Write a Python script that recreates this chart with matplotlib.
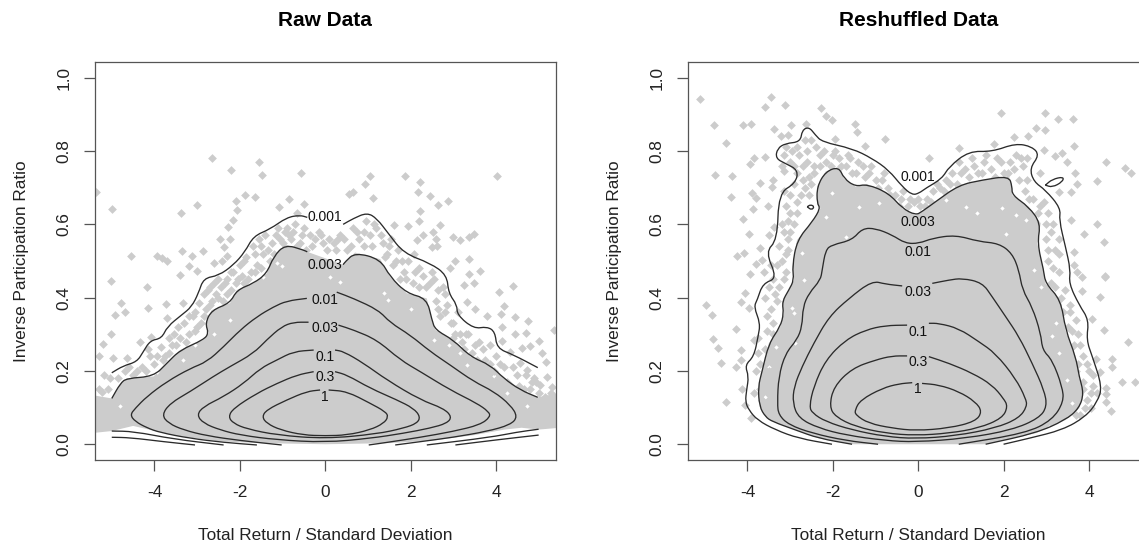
import numpy as np
from matplotlib import pyplot as plt
from matplotlib.path import Path
from matplotlib.patches import PathPatch

plt.rcParams['font.family'] = ['Liberation Sans', 'DejaVu Sans']

nan = float('nan')
levels_text = ['0.001', '0.003', '0.01', '0.03', '0.1', '0.3', '1']
xticks = [-4, -2, 0, 2, 4]
yticks = [0.0, 0.2, 0.4, 0.6, 0.8, 1.0]

# ---- raw data panel ----
raw_label_y = [.619, .49, .394, .316, .237, .183, .13]

raw_001_x = [-5.0, -4.73, -4.41, -4.26, -4.10, -3.83, -3.70, -3.36, -3.13, -2.97, -2.85, -2.50, -2.15, -1.88, -1.68, -1.29, -.90, -.59, -.42, nan, .42, .66, .98, 1.21, 1.48, 1.84, 2.46, 2.85, 2.89, 3.09, 3.09, 3.48, 3.79, 3.98, 4.02, 4.41, 4.98]
raw_001_y = [.195, .214, .225, .253, .283, .289, .321, .353, .375, .412, .453, .460, .489, .525, .568, .587, .619, .625, .619, nan, .60, .616, .632, .616, .575, .521, .494, .462, .412, .380, .353, .315, .321, .307, .262, .244, .209]
raw_003_x = [-5.0, -4.80, -4.65, -4.02, -3.71, -3.40, -2.85, -2.73, -2.81, -2.66, -2.23, -2.07, -1.68, -1.37, -1.21, -.94, -.51, -.42, nan, .42, .47, .70, 1.29, 1.52, 1.91, 2.38, 2.5, 2.58, 3.0, 3.4, 3.87, 4.18, 4.57, 4.98]
raw_003_y = [.125, .166, .18, .185, .221, .257, .285, .303, .33, .366, .385, .421, .439, .466, .512, .545, .53, .525, nan, .49, .498, .523, .505, .457, .412, .398, .339, .312, .285, .239, .216, .18, .148, .128]
raw_001_low_left_x = [-5.0, -4.57, -3.79, -3.05]
raw_001_low_left_y = [.019, .018, .007, -.002]
raw_003_low_left_x = [-5.0, -4.49, -3.55, -2.38]
raw_003_low_left_y = [.036, .035, .014, -.002]
raw_001_low_right_x = [3.05, 4.02, 5.0]
raw_001_low_right_y = [-.002, .012, .025]
raw_003_low_right_x = [2.38, 3.87, 4.49, 5.0]
raw_003_low_right_y = [-.002, .019, .033, .041]
raw_01_x = [-1.60, -2.38, -3.16, -3.87, -4.18, -4.45, -4.57, -4.45, -4.18, -3.71, -3.16, -2.77, -2.38, -1.99, -1.60, -1.21, -.90, -.43, nan, .27, .66, 1.25, 1.52, 1.99, 2.46, 2.93, 3.48, 3.95, 4.34, 4.51, 4.34, 3.79, 3.0, 2.23, 1.64]
raw_01_y = [-.002, .005, .016, .032, .045, .062, .08, .098, .13, .171, .207, .225, .266, .312, .348, .375, .391, .398, nan, .415, .398, .366, .332, .298, .253, .216, .171, .144, .107, .075, .053, .035, .019, .007, -.002]
raw_03_x = [-1.02, -1.99, -2.77, -3.32, -3.67, -3.83, -3.63, -3.16, -2.62, -2.23, -1.68, -1.37, -1.02, -.74, -.39, nan, .31, .66, 1.21, 1.76, 2.23, 2.93, 3.55, 3.83, 3.87, 3.63, 3.0, 2.23, 1.45, 1.02]
raw_03_y = [-.002, .01, .023, .039, .057, .08, .112, .144, .185, .212, .248, .285, .321, .333, .333, nan, .325, .312, .285, .23, .198, .148, .112, .089, .075, .053, .035, .019, .005, -.002]
raw_1_x = [-3.01, -2.85, -2.38, -1.91, -1.52, -1.13, -.74, -.27, nan, .23, .43, .90, 1.45, 2.23, 2.77, 2.97, 2.85, 2.46, 1.84, 1.05, 0, -1.13, -1.99, -2.46, -2.85, -3.01]
raw_1_y = [.08, .103, .13, .166, .207, .23, .253, .257, nan, .257, .253, .221, .175, .121, .098, .075, .057, .044, .03, .016, .005, .012, .025, .039, .057, .08]
raw_3_x = [-2.27, -2.15, -1.60, -1.13, -.66, -.27, nan, .23, .51, 1.05, 1.68, 2.07, 2.23, 2.15, 1.84, 1.21, 0, -1.13, -1.84, -2.15, -2.27]
raw_3_y = [.075, .098, .139, .166, .189, .198, nan, .198, .189, .153, .121, .098, .075, .057, .044, .028, .015, .025, .042, .057, .075]
raw_10_x = [-1.48, -1.37, -.90, -.43, -.12, nan, .08, .51, 1.05, 1.41, 1.48, 1.37, 1.05, .51, 0, -.51, -1.05, -1.37, -1.48]
raw_10_y = [.075, .094, .121, .144, .148, nan, .148, .144, .112, .089, .075, .057, .039, .025, .023, .025, .039, .057, .075]

raw_pts_x = [-2.66, -1.55, -2.2, -1.48, -.56, -5.37, -1.88, -1.64, -2.09, -.84, -.5, -1.08, -5.0, -3.0, -3.38, -2.07, -.65, -2.17, -2.27, -2.46, -2.24, -2.36, -4.55, -3.95, -3.83, -3.71, -3.35, -3.11, -2.87, -2.29, -2.6, -2.41, -3.18, -3.0, -3.41, -5.02, -4.18, -4.79, -4.14, -3.74, -4.68, -4.93, -3.71, -3.32, -5.02, -5.2, -4.34, -4.07, -5.29, -4.98, -4.65, -5.18, -5.23,
             1.04, .94, .66, .55, 1.12, 1.88, 2.23, 2.17, 2.46, 2.64, 2.88, 4.02, 2.23, 2.19, 2.68, 2.52, 1.93, 1.62, 2.29, 2.15, 2.6, 2.5, 2.62, 3.0, 3.15, 3.36, 3.48, 2.09, 3.36, 3.05, 2.93, 3.36, 3.62, 3.49, 3.24, 4.41, 4.07, 3.32, 4.18, 3.52, 3.79, 4.12, 4.45, 4.74, 4.14, 4.71, 4.45, 5.02, 4.8, 4.61, 4.14, 5.08, 5.17, 5.35, 4.34, 5.2, 5.04, 4.57, 4.73, 4.88, 5.31,
             -4.7, -4.5, -4.3, -4.1, -4.0, -3.85, -3.75, -3.6, -3.55, -3.4, -3.3, -3.2, -3.1, -3.0, -2.95, -2.85, -2.75, -2.7, -2.6, -2.5, -2.45, -2.3, -2.3, -2.15, -2.1, -2.0, -1.95, -1.85, -1.75, -1.7, -1.6, -1.55, -1.45, -1.4, -1.3, -1.25, -1.1, -1.05, -.9, -.8, -.7, -.6, -.5, -.35, -.3, -.15, -.05, .05,
             .2, .35, .5, .65, .8, .95, 1.05, 1.2, 1.35, 1.45, 1.55, 1.6, 1.7, 1.85, 1.95, 2.05, 2.2, 2.35, 2.5, 2.6, 2.75, 2.7, 2.85, 2.95, 3.05, 3.1, 3.2, 3.3, 3.45, 3.6, 3.75, 3.85, 3.95, 4.1, 4.25, 4.4, 4.55, 4.7, 4.8, 4.95,
             -4.6, -4.4, -4.2, -4.15, -3.95, -3.8, -3.65, -3.65, -3.5, -3.45, -3.25, -3.2, -3.05, -3.05, -2.9, -2.8, -2.85, -2.65, -2.7, -2.55, -2.5, -2.4, -2.35, -2.2, -2.2, -2.05, -1.9, -1.9, -1.8, -1.65, -1.65, -1.5, -1.5, -1.35, -1.2, -1.15, -1.0, -.95, -.85, -.75, -.65, -.55, -.45, -.25, -.1, .1, .25, .3, .45, .6, .75, .9, .9, 1.1, 1.15, 1.3, 1.4, 1.5, 1.65, 1.8, 1.75, 1.9, 2.1, 2.2, 2.3, 2.45, 2.55, 2.65, 2.65, 2.8, 2.8, 3.0, 3.0, 3.15, 3.25, 3.35, 3.5, 3.55, 3.7, 3.85, 4.0, 4.05, 4.2, 4.35, 4.5, 4.65, 4.85, 5.0, 5.15, 5.3, -5.1, -5.3, -4.85, -5.05]
raw_pts_y = [.78, .771, .748, .736, .74, .688, .68, .674, .665, .669, .655, .646, .642, .654, .632, .639, .632, .613, .592, .56, .56, .539, .513, .514, .507, .5, .526, .515, .526, .515, .494, .5, .486, .473, .462, .446, .429, .386, .373, .383, .36, .353, .344, .385, .301, .274, .279, .292, .241, .235, .235, .189, .143,
             .732, .709, .689, .682, .673, .733, .716, .689, .677, .652, .665, .733, .637, .61, .598, .58, .595, .598, .57, .557, .559, .539, .541, .565, .557, .566, .575, .519, .506, .5, .48, .465, .473, .439, .435, .432, .416, .389, .378, .369, .35, .355, .348, .336, .321, .303, .301, .283, .268, .262, .283, .25, .224, .312, .253, .183, .162, .221, .203, .18, .157,
             .20, .19, .21, .24, .22, .265, .24, .27, .30, .29, .33, .30, .35, .32, .385, .35, .42, .38, .44, .40, .43, .45, .41, .47, .44, .49, .46, .51, .47, .54, .49, .56, .52, .57, .50, .55, .59, .56, .59, .56, .6, .55, .59, .57, .54, .58, .55, .53,
             .55, .57, .53, .59, .56, .61, .57, .59, .55, .52, .56, .49, .53, .47, .5, .44, .48, .43, .47, .39, .43, .35, .38, .33, .3, .36, .28, .3, .25, .28, .23, .27, .2, .22, .17, .21, .16, .19, .15, .17,
             .21, .2, .2, .26, .24, .23, .25, .29, .27, .32, .28, .35, .31, .36, .33, .37, .41, .39, .43, .41, .45, .39, .44, .42, .47, .45, .44, .5, .45, .47, .52, .48, .54, .53, .52, .57, .55, .58, .57, .58, .54, .57, .53, .56, .57, .56, .53, .56, .56, .54, .58, .54, .58, .54, .6, .57, .51, .54, .5, .5, .45, .45, .47, .43, .46, .44, .45, .37, .42, .36, .41, .33, .29, .3, .26, .3, .27, .23, .26, .22, .24, .18, .21, .16, .19, .15, .17, .14, .13, .14, .15, .15, .18, .18]
raw_edge_x = [-5.5, -5.5, -5.0, -4.5, -4.2, -3.5, -2.5, -1.5, 0, 1.5, 2.5, 3.5, 4.2, 4.6, 5.0, 5.5, 5.5]
raw_edge_y = [.135, .03, .036, .05, .042, .023, .008, .003, 0, .003, .01, .025, .04, .045, .04, .045, .14]
raw_holes_x = [-1.02, -1.13, -1.45, -1.84, -2.23, -3.32, -3.95, -4.8, 1.37, 1.48, 2.54, 3.16, 3.32, 3.95, 4.26, 4.73, .12, .35, -2.6, -3.05, 2.0, 2.9]
raw_holes_y = [.485, .494, .457, .475, .339, .23, .198, .103, .412, .394, .285, .248, .216, .185, .139, .103, .457, .444, .3, .27, .37, .27]

# ---- reshuffled data panel ----
shuf_label_y = [.729, .607, .525, .416, .307, .225, .15]

shuf_001_x = [-2.02, -2.80, -3.34, -3.77, -3.97, -4.05, -4.02, -3.97, -4.06, -3.85, -3.75, -3.70, -3.85, -3.77, -3.64, -3.30, -3.58, -3.30, -3.27, -2.875, -2.81, -3.11, -3.34, -3.30, -3.11, -2.76, -2.72, -2.56, -2.41, -2.25, -1.55, -1.08, -.69, -.375, -.14, .02, .17, .56, .72, 1.19, 1.73, 2.28, 2.67, 2.84, 2.61, 2.71, 2.98, 3.34, 3.30, 3.45, 3.57, 3.53, 3.77, 4.0, 3.94, 4.08, 4.31, 4.2, 3.92, 3.38, 2.59, 2.0]
shuf_001_y = [0, .016, .039, .066, .094, .116, .148, .185, .216, .239, .294, .33, .375, .394, .439, .453, .525, .557, .685, .712, .748, .766, .78, .807, .821, .825, .857, .866, .844, .825, .807, .78, .748, .703, .68, .685, .698, .725, .757, .80, .798, .821, .812, .789, .753, .716, .694, .644, .612, .539, .475, .439, .38, .339, .285, .239, .157, .116, .075, .039, .016, 0]
isle_a_x = [-2.6, -2.52, -2.43, -2.5, -2.6]
isle_a_y = [.648, .654, .648, .639, .648]
isle_b_x = [2.98, 3.14, 3.41, 3.38, 3.14, 2.98]
isle_b_y = [.707, .723, .73, .716, .701, .707]
shuf_003_x = [-1.55, -2.33, -2.875, -3.42, -3.58, -3.72, -3.75, -3.66, -3.5, -3.23, -3.15, -3.19, -3.03, -2.91, -2.95, -2.84, -2.48, -2.29, -2.37, -2.37, -2.17, -1.86, -1.74, -1.47, -1.2, -.69, -.375, -.06, .09, .41, .95, 1.5, 2.125, 2.2, 2.2, 2.59, 2.87, 2.79, 2.94, 2.98, 3.34, 3.45, 3.69, 3.77, 3.88, 3.77, 3.45, 2.75, 1.58]
shuf_003_y = [0, .016, .039, .062, .075, .103, .157, .198, .275, .321, .357, .389, .421, .448, .485, .557, .607, .644, .657, .703, .744, .757, .725, .703, .71, .685, .644, .625, .635, .662, .707, .721, .732, .703, .68, .648, .603, .548, .475, .439, .394, .312, .239, .185, .139, .098, .066, .03, 0]
shuf_01_x = [-.94, -1.70, -2.48, -3.03, -3.27, -3.30, -3.27, -3.11, -2.84, -2.72, -2.70, -2.56, -2.29, -2.25, -2.17, -2.02, -1.55, -1.31, -1, -.61, -.30, .02, .33, .875, 1.42, 1.89, 2.2, 2.36, 2.44, 2.67, 2.87, 2.91, 3.14, 3.375, 3.41, 3.14, 2.52, .95]
shuf_01_y = [0, .01, .03, .053, .08, .112, .185, .248, .285, .321, .375, .412, .448, .475, .53, .544, .557, .589, .589, .571, .548, .548, .562, .571, .553, .548, .521, .475, .421, .375, .303, .257, .23, .157, .116, .066, .03, 0]
shuf_03_x = [-2.94, -2.91, -2.72, -2.45, -2.09, -1.625, -1.08, -.77, -.375, nan, .33, .72, 1.03, 1.5, 1.73, 2.05, 2.36, 2.67, 2.95, 3.02, 2.83, 2.2, 1.11, -.06, -.77, -1.70, -2.33, -2.80, -2.94]
shuf_03_y = [.112, .157, .212, .275, .348, .398, .446, .437, .432, nan, .439, .448, .453, .441, .403, .348, .294, .221, .148, .103, .071, .039, .016, .006, .01, .025, .044, .071, .112]
shuf_1_x = [-2.55, -2.45, -2.17, -1.70, -1.23, -.77, -.26, nan, .25, .48, .95, 1.42, 1.81, 2.28, 2.52, 2.55, 2.36, 1.81, .875, -.06, -.77, -1.55, -2.17, -2.48, -2.55]
shuf_1_y = [.103, .157, .23, .285, .312, .324, .325, nan, .33, .33, .316, .28, .248, .18, .125, .103, .071, .044, .023, .015, .021, .039, .062, .085, .103]
shuf_3_x = [-2.08, -1.98, -1.55, -1, -.61, -.26, nan, .25, .72, 1.27, 1.73, 2.0, 2.1, 1.97, 1.42, .72, -.06, -.77, -1.47, -1.94, -2.08]
shuf_3_y = [.103, .157, .207, .23, .241, .241, nan, .239, .221, .194, .162, .125, .103, .071, .044, .03, .024, .03, .048, .075, .103]
shuf_10_x = [-1.48, -1.35, -.84, -.45, -.14, nan, .09, .48, .95, 1.34, 1.5, 1.34, .72, -.06, -.61, -1.16, -1.47, -1.48]
shuf_10_y = [.094, .121, .153, .165, .168, nan, .166, .162, .144, .116, .089, .062, .044, .037, .044, .057, .08, .094]

shuf_pts_x = [-5.11, -3.44, -3.6, -3.13, -2.27, -2.16, -2.02, -4.78, -4.11, -3.92, -2.97, -2.64, -1.47, -3.38, -1.44, -3.22, -3.05, -1.95, -.77, -4.51, -1.24, -3.58, -3.84, -3.95, -4.75, -4.36, -3.15, -3.7, -3.41, -3.42, -4.38, -3.89, -3.8, -3.52, -3.87, -4.11, -3.38, -3.97, -3.5, -4.09, -4.25, -3.7, -3.8, -3.95, -3.61, -3.66,
              -4.97, -4.83, -4.05, -4.14, -3.97, -4.27, -4.8, -4.7, -4.16, -4.63, -4.16, -4.26, -3.85, -4.13, -4.5, -4.05, -3.91,
              1.93, 2.97, 3.27, 3.63, 2.75, 2.97, 2.57, 2.24, 1.77, 3.66, .95, 2.95, 3.36, 3.2, 3.49, .25, 4.41, 4.84, 4.98, 3.67, 2.86, 4.2, 3.73, 3.31, 3.59, 3.57, 4.18, 3.88, 4.35, 3.65, 3.65, 4.37, 3.73,
              4.38, 3.84, 3.83, 4.25, 4.08, 4.35, 4.92, 4.53, 4.53, 4.17, 4.27, 4.77, 5.07, 4.39, 4.39, 4.41, 4.51,
              -3.85, -3.8, -3.65, -3.6, -3.75, -3.6, -3.55, -3.4, -3.45, -3.6, -3.3, -3.25, -3.4, -3.1, -3.2, -3.05, -3.25, -3.0, -3.2, -2.9, -3.1, -2.85, -3.15, -2.75, -2.9, -2.65, -2.55, -2.7, -2.45, -3.15, -3.0, -2.95, -2.8, -2.6, -2.5, -2.3, -2.15, -2.0, -1.85, -1.7, -1.6, -1.45, -1.3, -1.15, -1.0, -.85, -.7, -.55, -.4, -.25, -.1, .05,
              .2, .35, .5, .65, .8, .95, 1.1, 1.25, 1.4, 1.55, 1.7, 1.85, 2.0, 2.15, 2.3, 2.45, 2.35, 2.5, 2.7, 2.85, 3.05, 3.15, 3.0, 3.2, 3.05, 3.3, 3.1, 3.45, 3.25, 3.55, 3.6, 3.75, 3.55, 3.85, 3.7, 4.0, 3.85, 4.1, 3.95, 4.05, 3.8,
              -3.7, -3.7, -3.5, -3.75, -3.55, -3.4, -3.5, -3.35, -3.45, -3.3, -3.15, -3.1, -3.15, -3.05, -3.05, -3.0, -3.0, -2.85, -2.7, -2.55, -2.85, -2.5, -2.6, -2.45, -3.2, -2.9, -3.1, -2.85, -2.65, -2.4, -2.3, -2.2, -2.05, -1.95, -1.8, -1.65, -1.55, -1.4, -1.25, -1.1, -.95, -.8, -.65, -.45, -.35, -.2, 0, .15, .3, .45, .6, .75, .9, 1.0, 1.2, 1.3, 1.5, 1.6, 1.8, 1.95, 2.1, 2.25, 2.4, 2.55, 2.55, 2.6, 2.8, 2.95, 3.0, 3.1, 3.05, 3.3, 3.15, 3.3, 3.2, 3.35, 3.4, 3.55, 3.5, 3.7, 3.65, 3.8, 3.75, 3.95, 3.85, 4.05, 4.1, 3.9, 3.7, 4.2]
shuf_pts_y = [.943, .948, .919, .925, .917, .895, .886, .872, .872, .873, .871, .873, .875, .86, .852, .841, .845, .834, .834, .821, .815, .783, .781, .766, .735, .733, .746, .712, .721, .701, .675, .685, .671, .651, .642, .614, .594, .575, .571, .521, .514, .535, .492, .464, .471, .503,
              .38, .353, .412, .387, .373, .315, .286, .262, .257, .221, .23, .21, .285, .151, .114, .107, .071,
              .903, .905, .888, .887, .862, .857, .841, .837, .82, .815, .807, .804, .795, .787, .771, .782, .769, .753, .739, .739, .739, .719, .71, .688, .688, .612, .6, .575, .553, .525, .489, .458, .471,
              .457, .457, .418, .401, .341, .312, .28, .232, .21, .232, .198, .171, .171, .153, .137, .114, .092,
              .14, .2, .12, .17, .25, .26, .31, .3, .37, .4, .39, .43, .45, .47, .5, .53, .54, .58, .6, .6, .65, .63, .69, .68, .71, .7, .73, .76, .76, .79, .77, .8, .79, .8, .83, .79, .77, .79, .78, .76, .78, .74, .76, .74, .72, .72, .7, .68, .67, .65, .66, .65,
              .67, .69, .7, .72, .74, .77, .75, .78, .74, .77, .75, .78, .74, .77, .79, .76, .72, .69, .67, .65, .63, .6, .56, .53, .5, .47, .44, .42, .38, .36, .31, .3, .26, .24, .2, .2, .17, .16, .12, .1, .08,
              .22, .15, .2, .29, .35, .33, .43, .41, .49, .49, .45, .52, .58, .61, .56, .63, .68, .66, .72, .68, .74, .71, .77, .74, .76, .76, .81, .81, .83, .81, .76, .8, .76, .8, .76, .79, .74, .77, .73, .76, .7, .74, .68, .65, .69, .67, .67, .65, .66, .71, .69, .71, .71, .74, .73, .76, .74, .79, .73, .77, .74, .75, .78, .78, .72, .67, .63, .66, .6, .58, .53, .56, .48, .52, .43, .4, .36, .38, .32, .34, .27, .27, .22, .22, .15, .14, .19, .1, .08, .14]
shuf_holes_x = [-2.91, -2.95, -2.68, -2.875, -3.34, -3.5, -3.58, -2.02, -1.7, -2.17, -2.72, -.92, -1.39, .64, 1.11, 1.97, 2.28, 1.38, 2.52, 2.05, 2.71, 2.87, 3.22, 3.3, 3.14, 3.49, 3.61, 3.06]
shuf_holes_y = [.357, .371, .448, .275, .266, .212, .13, .685, .566, .621, .521, .657, .648, .666, .648, .644, .625, .63, .612, .575, .475, .43, .33, .248, .294, .175, .112, .048]

raw_lines = [(raw_001_x, raw_001_y), (raw_003_x, raw_003_y), (raw_001_low_left_x, raw_001_low_left_y),
             (raw_003_low_left_x, raw_003_low_left_y), (raw_001_low_right_x, raw_001_low_right_y),
             (raw_003_low_right_x, raw_003_low_right_y), (raw_01_x, raw_01_y), (raw_03_x, raw_03_y),
             (raw_1_x, raw_1_y), (raw_3_x, raw_3_y), (raw_10_x, raw_10_y)]
shuf_lines = [(shuf_001_x, shuf_001_y), (isle_a_x, isle_a_y), (isle_b_x, isle_b_y), (shuf_003_x, shuf_003_y),
              (shuf_01_x, shuf_01_y), (shuf_03_x, shuf_03_y), (shuf_1_x, shuf_1_y), (shuf_3_x, shuf_3_y),
              (shuf_10_x, shuf_10_y)]


def split_line(lx, ly):
    # a loop broken by its label is started at the break, so the tip stays round
    pts = np.column_stack([lx, ly])
    cut = np.where(np.isnan(pts[:, 0]))[0]
    if len(cut) == 0:
        return [pts]
    first, second = pts[:cut[0]], pts[cut[0] + 1:]
    if np.allclose(first[0], second[-1]):
        return [np.vstack([second, first[1:]])]
    return [first, second]


def curve(ax, pts):
    # quadratic pieces, the read points act as control points
    mids = (pts[:-1] + pts[1:]) / 2
    verts = [pts[0], mids[0]]
    codes = [Path.MOVETO, Path.LINETO]
    for i in range(1, len(pts) - 1):
        verts += [pts[i], mids[i]]
        codes += [Path.CURVE3, Path.CURVE3]
    verts.append(pts[-1])
    codes.append(Path.LINETO)
    ax.add_patch(PathPatch(Path(verts, codes), fill=False, edgecolor='#2b2b2b', lw=0.95, zorder=3))


def panel(ax, title, fill_x, fill_y, pts_x, pts_y, holes_x, holes_y, lines, label_y):
    ax.fill(fill_x, fill_y, color='#cccccc', lw=0, zorder=1)
    ax.scatter(holes_x, holes_y, s=5, marker='D', color='white', lw=0, zorder=1.5)
    ax.scatter(pts_x, pts_y, s=20, marker='D', color='#cccccc', lw=0, zorder=2)
    for lx, ly in lines:
        for seg in split_line(lx, ly):
            curve(ax, seg)
    for txt, ly in zip(levels_text, label_y):
        ax.text(0, ly, txt, ha='center', va='center', fontsize=10, color='#111111', zorder=4)
    ax.set_xlim(-5.4, 5.4)
    ax.set_ylim(-0.043, 1.043)
    ax.set_xticks(xticks)
    ax.set_xticklabels([str(t) for t in xticks], fontsize=12.4)
    ax.set_yticks(yticks)
    ax.set_yticklabels(['%.1f' % t for t in yticks], rotation=90, va='center', fontsize=12.4)
    ax.tick_params(length=7.6, width=0.9, color='#555555', labelcolor='#222222')
    ax.tick_params(axis='x', pad=10.5)
    ax.tick_params(axis='y', pad=9)
    for s in ax.spines.values():
        s.set_color('#555555')
        s.set_linewidth(0.9)
    ax.set_xlabel('Total Return / Standard Deviation', fontsize=12.4, labelpad=20, color='#222222')
    ax.set_ylabel('Inverse Participation Ratio', fontsize=12.4, labelpad=20, color='#222222')
    ax.set_title(title, fontsize=15, fontweight='bold', pad=26)


W, H = 1139, 544
fig = plt.figure(figsize=(W / 100, H / 100), dpi=100)
ax1 = fig.add_axes([94.7 / W, 84 / H, 461 / W, 398 / H])
ax2 = fig.add_axes([687.7 / W, 84 / H, 461 / W, 398 / H])

raw_top_x = [v for v in raw_003_x if v == v]
raw_top_y = [v for v in raw_003_y if v == v]
panel(ax1, 'Raw Data', raw_top_x + raw_edge_x[::-1], raw_top_y + raw_edge_y[::-1],
      raw_pts_x, raw_pts_y, raw_holes_x, raw_holes_y, raw_lines, raw_label_y)
panel(ax2, 'Reshuffled Data', shuf_003_x, shuf_003_y,
      shuf_pts_x, shuf_pts_y, shuf_holes_x, shuf_holes_y, shuf_lines, shuf_label_y)

fig.savefig('out.png', dpi=100)
